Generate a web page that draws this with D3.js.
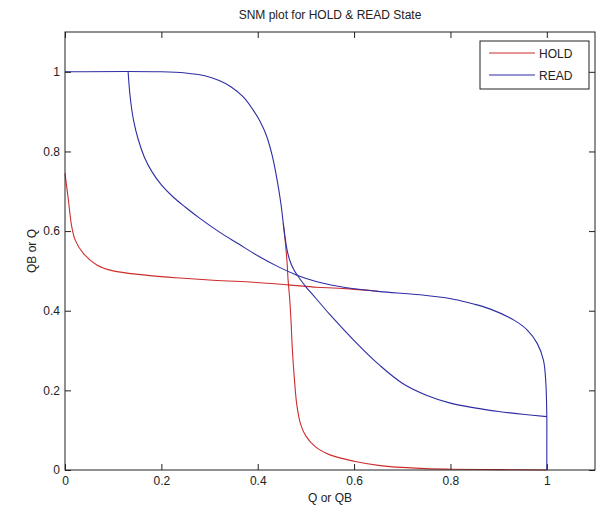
<!DOCTYPE html>
<html><head><meta charset="utf-8">
<script src="https://cdn.jsdelivr.net/npm/d3@7"></script>
<style>body{margin:0;background:#fff}svg text{font-family:"Liberation Sans",Arial,sans-serif;fill:#222}</style>
</head><body><svg id="c" width="599" height="510"></svg>
<script>
const title = "SNM plot for HOLD & READ State";
const xLabel = "Q or QB";
const yLabel = "QB or Q";
const xTicks = [0, 0.2, 0.4, 0.6, 0.8, 1];
const yTicks = [0, 0.2, 0.4, 0.6, 0.8, 1];
const seriesNames = ["HOLD", "READ"];
// HOLD curve 1 (x, y)
const hold1 = [[0,0.745],[0.007,0.678],[0.014,0.611],[0.021,0.578],[0.038,0.544],[0.066,0.515],[0.10,0.50],[0.163,0.49],[0.239,0.482],[0.30,0.477],[0.384,0.472],[0.463,0.465],[0.523,0.459],[0.59,0.455],[0.65,0.449]];
// HOLD curve 2
const hold2 = [[0.453,0.62],[0.457,0.575],[0.461,0.52],[0.463,0.477],[0.466,0.435],[0.469,0.377],[0.472,0.30],[0.476,0.23],[0.481,0.165],[0.489,0.115],[0.50,0.085],[0.52,0.058],[0.55,0.038],[0.60,0.022],[0.654,0.011],[0.737,0.004],[0.80,0.002],[0.90,0.001],[1,0.0]];
// READ curve 1
const read1 = [[0,1],[0.2,1],[0.25,0.997],[0.29,0.99],[0.32,0.978],[0.345,0.962],[0.37,0.937],[0.39,0.905],[0.405,0.875],[0.418,0.84],[0.43,0.79],[0.44,0.73],[0.448,0.67],[0.455,0.6],[0.461,0.552],[0.467,0.525],[0.475,0.503],[0.484,0.486],[0.50,0.46],[0.52,0.432],[0.55,0.39],[0.60,0.325],[0.654,0.262],[0.70,0.218],[0.75,0.188],[0.80,0.168],[0.85,0.156],[0.90,0.147],[0.95,0.14],[1.0,0.134]];
// READ curve 2
const read2 = [[0.131,1.0],[0.135,0.94],[0.142,0.88],[0.152,0.83],[0.165,0.785],[0.18,0.75],[0.20,0.716],[0.225,0.685],[0.25,0.66],[0.28,0.632],[0.32,0.598],[0.36,0.568],[0.40,0.538],[0.44,0.512],[0.48,0.49],[0.523,0.473],[0.564,0.462],[0.60,0.455],[0.654,0.448],[0.737,0.44],[0.806,0.429],[0.848,0.417],[0.883,0.404],[0.931,0.377],[0.959,0.352],[0.98,0.318],[0.993,0.276],[0.998,0.218],[1.0,0.134],[1.0,0.06],[1.0,0]];

const colors = {HOLD:"rgb(205,45,45)", READ:"rgb(45,45,165)"};
const svg = d3.select("#c");
const L=65, R=595, T=32, B=470;
const x = d3.scaleLinear().domain([0,1.1]).range([L,R]);
const y = d3.scaleLinear().domain([0,1.1]).range([B,T]);

const line = d3.line().x(d=>x(d[0])).y(d=>y(d[1])).curve(d3.curveCatmullRom.alpha(0.5));
const g = svg.append("g");
[[hold1,"HOLD"],[hold2,"HOLD"],[read1,"READ"],[read2,"READ"]].forEach(([d,n])=>{
  g.append("path").datum(d).attr("d",line).attr("fill","none").attr("stroke",colors[n]).attr("stroke-width",1.1);
});

// axes box
svg.append("rect").attr("x",L).attr("y",T).attr("width",R-L).attr("height",B-T).attr("fill","none").attr("stroke","#222").attr("stroke-width",1);
const ax = svg.append("g").attr("transform",`translate(0,${B})`).call(d3.axisBottom(x).tickValues(xTicks).tickSize(-6).tickPadding(6).tickFormat(d3.format("~g")));
const axT = svg.append("g").attr("transform",`translate(0,${T})`).call(d3.axisTop(x).tickValues(xTicks).tickSize(-6).tickFormat(""));
const ay = svg.append("g").attr("transform",`translate(${L},0)`).call(d3.axisLeft(y).tickValues(yTicks).tickSize(-6).tickPadding(5).tickFormat(d3.format("~g")));
const ayR = svg.append("g").attr("transform",`translate(${R},0)`).call(d3.axisRight(y).tickValues(yTicks).tickSize(-6).tickFormat(""));
[ax,axT,ay,ayR].forEach(a=>{a.select(".domain").remove();a.selectAll("line").attr("stroke","#222");a.selectAll("text").attr("font-size",12).attr("fill","#222").style("font-family","Liberation Sans, Arial, sans-serif");});

svg.append("text").attr("x",330).attr("y",19).attr("text-anchor","middle").attr("font-size",12).text(title);
svg.append("text").attr("x",330).attr("y",502).attr("text-anchor","middle").attr("font-size",12).text(xLabel);
svg.append("text").attr("transform","translate(36,251) rotate(-90)").attr("text-anchor","middle").attr("font-size",12).text(yLabel);

// legend
const lg = svg.append("g");
lg.append("rect").attr("x",480).attr("y",41).attr("width",109).attr("height",48).attr("fill","#fff").attr("stroke","#222");
seriesNames.forEach((n,i)=>{
  const yy = 53 + i*22;
  lg.append("line").attr("x1",489).attr("x2",535).attr("y1",yy).attr("y2",yy).attr("stroke",colors[n]).attr("stroke-width",1.1);
  lg.append("text").attr("x",539).attr("y",yy+4.5).attr("font-size",12).text(n);
});
</script></body></html>
